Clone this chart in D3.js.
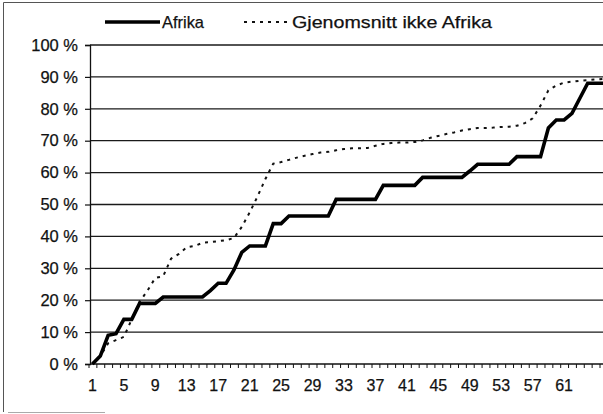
<!DOCTYPE html>
<html>
<head>
<meta charset="utf-8">
<script src="https://cdn.jsdelivr.net/npm/d3@7"></script>
<style>
  html, body { margin: 0; padding: 0; background: #fff; }
  svg { display: block; }
  text { font-family: "Liberation Sans", Arial, sans-serif; fill: #111; }
</style>
</head>
<body>
<script>
// ---- data ----
const categories = d3.range(1, 67); // 1..66
const xTickLabels = [1, 5, 9, 13, 17, 21, 25, 29, 33, 37, 41, 45, 49, 53, 57, 61];
const yTickValues = [0, 10, 20, 30, 40, 50, 60, 70, 80, 90, 100];
const seriesNames = ["Afrika", "Gjenomsnitt ikke Afrika"];
const afrika = [
  0, 2.5, 9, 9.5, 14, 14, 19, 19, 19, 21,
  21, 21, 21, 21, 21, 23, 25.3, 25.3, 29.5, 35,
  37, 37, 37, 44, 44, 46.4, 46.4, 46.4, 46.4, 46.4,
  46.4, 51.6, 51.6, 51.6, 51.6, 51.6, 51.6, 56, 56, 56,
  56, 56, 58.5, 58.5, 58.5, 58.5, 58.5, 58.5, 60.5, 62.6,
  62.6, 62.6, 62.6, 62.6, 65, 65, 65, 65, 74, 76.5,
  76.5, 78.6, 83.3, 88, 88, 88
];
const ikkeAfrika = [
  0, 2.5, 6.5, 7.5, 8.5, 14, 19.5, 23, 27, 27.5,
  33, 34.5, 36.6, 37, 38, 38.2, 38.5, 38.8, 39.5, 43,
  47.5, 52.5, 58, 62.8, 63.3, 64, 64.7, 65.3, 65.8, 66.3,
  66.5, 67, 67.4, 67.6, 67.6, 67.7, 68.4, 69, 69.3, 69.4,
  69.4, 69.6, 70.1, 70.9, 71.5, 72.1, 72.6, 73.2, 73.6, 74,
  74, 74.1, 74.3, 74.4, 74.7, 75.5, 77, 81, 85.8, 87.3,
  88.2, 88.5, 88.8, 89, 89.2, 89.4
];

// ---- layout ----
const W = 603, H = 414;
const svg = d3.select("body").append("svg").attr("width", W).attr("height", H);

const x = d3.scaleLinear().domain([0.5, 65.5]).range([88.5, 599.5]);
const y = d3.scaleLinear().domain([0, 100]).range([364, 45]);
const axisX = 90;

// outer frame
svg.append("line").attr("x1", 3.5).attr("x2", W).attr("y1", 2.5).attr("y2", 2.5)
  .attr("stroke", "#555").attr("stroke-width", 1);
svg.append("line").attr("x1", 3.5).attr("x2", 3.5).attr("y1", 2.5).attr("y2", 412)
  .attr("stroke", "#555").attr("stroke-width", 1);
svg.append("line").attr("x1", 8).attr("x2", 105).attr("y1", 412.5).attr("y2", 412.5)
  .attr("stroke", "#aaa").attr("stroke-width", 1);

// gridlines
svg.append("g").selectAll("line").data(yTickValues.filter(v => v > 0)).join("line")
  .attr("x1", axisX).attr("x2", W)
  .attr("y1", d => y(d)).attr("y2", d => y(d))
  .attr("stroke", "#1a1a1a").attr("stroke-width", 1.3);

// y axis
const yAxis = d3.axisLeft(y).tickValues(yTickValues).tickSize(5).tickPadding(7)
  .tickFormat(d => d + " %");
const gy = svg.append("g").attr("transform", `translate(${axisX},0)`).call(yAxis);
gy.select(".domain").attr("stroke", "#111").attr("stroke-width", 1.3);
gy.selectAll(".tick line").attr("stroke", "#111").attr("stroke-width", 1.2);
gy.selectAll(".tick text").style("font-size", "16.5px").attr("fill", "#111")
  .attr("stroke", "#111").attr("stroke-width", 0.25)
  .style("font-family", "'Liberation Sans', Arial, sans-serif");

// x axis
const xAxis = d3.axisBottom(x).tickValues(d3.range(0.5, 66.5, 1)).tickSize(4).tickFormat("");
const gx = svg.append("g").attr("transform", `translate(0,${y(0)})`).call(xAxis);
gx.select(".domain").attr("stroke", "#111").attr("stroke-width", 1.4).attr("d", `M${axisX},0H${W}`);
gx.selectAll(".tick line").attr("stroke", "#111").attr("stroke-width", 1);

svg.append("g").selectAll("text").data(xTickLabels).join("text")
  .attr("x", d => x(d)).attr("y", 391)
  .attr("text-anchor", "middle")
  .attr("stroke", "#111").attr("stroke-width", 0.25)
  .style("font-size", "16px")
  .text(d => d);

// lines
const line = d3.line().x((d, i) => x(categories[i])).y(d => y(d));
svg.append("clipPath").attr("id", "clip")
  .append("rect").attr("x", axisX - 4).attr("y", 0).attr("width", W).attr("height", 372);

svg.append("path").datum(ikkeAfrika)
  .attr("clip-path", "url(#clip)")
  .attr("d", line).attr("fill", "none")
  .attr("stroke", "#111").attr("stroke-width", 2)
  .attr("stroke-dasharray", "3,5");

svg.append("path").datum(afrika)
  .attr("clip-path", "url(#clip)")
  .attr("d", line).attr("fill", "none")
  .attr("stroke", "#000").attr("stroke-width", 3.6)
  .attr("stroke-linejoin", "miter");

// legend
const lg = svg.append("g");
lg.append("line").attr("x1", 105).attr("x2", 160).attr("y1", 22).attr("y2", 22)
  .attr("stroke", "#000").attr("stroke-width", 3.6);
lg.append("text").attr("x", 162).attr("y", 28).style("font-size", "17px")
  .attr("stroke", "#111").attr("stroke-width", 0.25)
  .attr("textLength", 42).attr("lengthAdjust", "spacingAndGlyphs").text(seriesNames[0]);
lg.append("line").attr("x1", 244).attr("x2", 290).attr("y1", 22).attr("y2", 22)
  .attr("stroke", "#111").attr("stroke-width", 2).attr("stroke-dasharray", "3,5");
lg.append("text").attr("x", 292).attr("y", 28).style("font-size", "17px")
  .attr("stroke", "#111").attr("stroke-width", 0.25)
  .attr("textLength", 200).attr("lengthAdjust", "spacingAndGlyphs").text(seriesNames[1]);
</script>
</body>
</html>
